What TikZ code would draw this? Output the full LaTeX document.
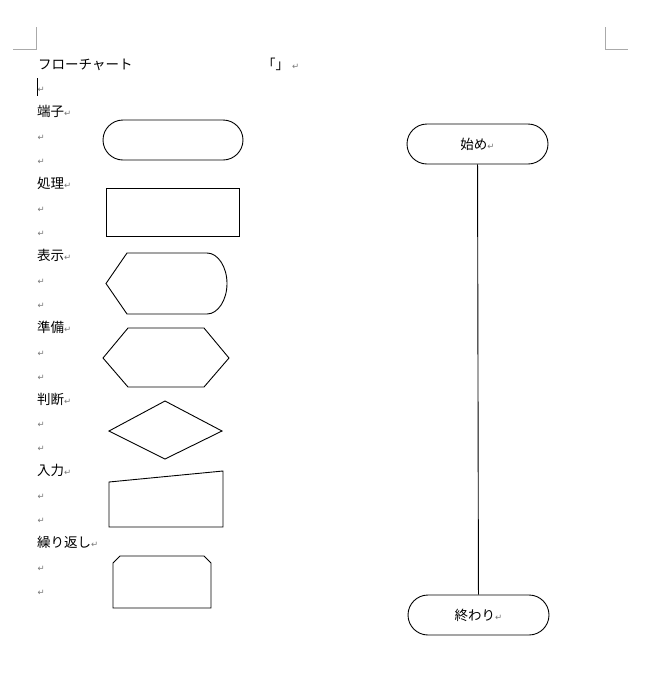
\documentclass[tikz,border=0pt]{standalone}
\usepackage{fontspec}
\newfontfamily\jpfont{Noto Sans CJK JP}
\newfontfamily\symfont{DejaVu Sans}
\definecolor{retgray}{RGB}{120,120,120}
\definecolor{cornergray}{RGB}{170,170,170}
\newcommand\pmark{{\color{retgray}\symfont\fontsize{8.5}{9}\selectfont ↵}}
\begin{document}
\begin{tikzpicture}[x=1pt,y=-1pt,
  lbl/.style={anchor=base west, inner sep=0pt, font=\jpfont\fontsize{13.5}{13.5}\selectfont},
  symb/.style={draw=black, line width=0.9pt, line join=miter},
  term/.style={draw=black, line width=0.9pt, rounded corners=20pt, minimum width=141pt, minimum height=40pt, inner sep=0pt, font=\jpfont\fontsize{13.5}{13.5}\selectfont},
  corner/.style={draw=cornergray, line width=1pt},
  conn/.style={draw=black, line width=0.9pt}]
\useasboundingbox (0,0) rectangle (649,689);
\fill[white] (0,0) rectangle (649,689);
% page corner marks
\draw[corner] (36,27) -- (36,49) -- (13,49);
\draw[corner] (605,27) -- (605,49) -- (628,49);
% text lines
\node[lbl] (title) at (38,69) {フローチャート};
\node[lbl] (brk) at (262,69) {「」 \pmark};
\draw[black, line width=1pt] (37,78) -- (37,96);
\foreach \i in {1,3,4,6,7,9,10,12,13,15,16,18,19,21,22}{
  \node[lbl] (r\i) at (37.5,{69+23.93*\i}) {\pmark};
}
\node[lbl] (l2) at (37,{69+23.93*2}) {端子\pmark};
\node[lbl] (l5) at (37,{69+23.93*5}) {処理\pmark};
\node[lbl] (l8) at (37,{69+23.93*8}) {表示\pmark};
\node[lbl] (l11) at (37,{69+23.93*11}) {準備\pmark};
\node[lbl] (l14) at (37,{69+23.93*14}) {判断\pmark};
\node[lbl] (l17) at (37,{69+23.93*17}) {入力\pmark};
\node[lbl] (l20) at (37,{69+23.93*20}) {繰り返し\pmark};
% symbols
\draw[symb, rounded corners=20pt] (103,120) rectangle (243,160);
\draw[symb] (106,188) rectangle (239,236);
\draw[symb] (106,283.5) -- (127,253) -- (207,253)
  .. controls (218,253) and (227,267) .. (227,283.5)
  .. controls (227,300) and (218,314) .. (207,314) -- (127,314) -- cycle;
\draw[symb] (103,358) -- (128,328) -- (204,328) -- (229,358) -- (204,387) -- (128,387) -- cycle;
\draw[symb] (165,401) -- (222,431) -- (165,459) -- (109,431) -- cycle;
\draw[symb] (109,482) -- (223,471) -- (223,527) -- (109,527) -- cycle;
\draw[symb] (113,563) -- (120,556) -- (204,556) -- (211,563) -- (211,608) -- (113,608) -- cycle;
% flowchart
\node[term] (start) at (477.5,144) {始め\pmark};
\node[term] (end) at (478.5,615) {終わり\pmark};
\draw[conn] (start) -- (end);
\end{tikzpicture}
\end{document}
